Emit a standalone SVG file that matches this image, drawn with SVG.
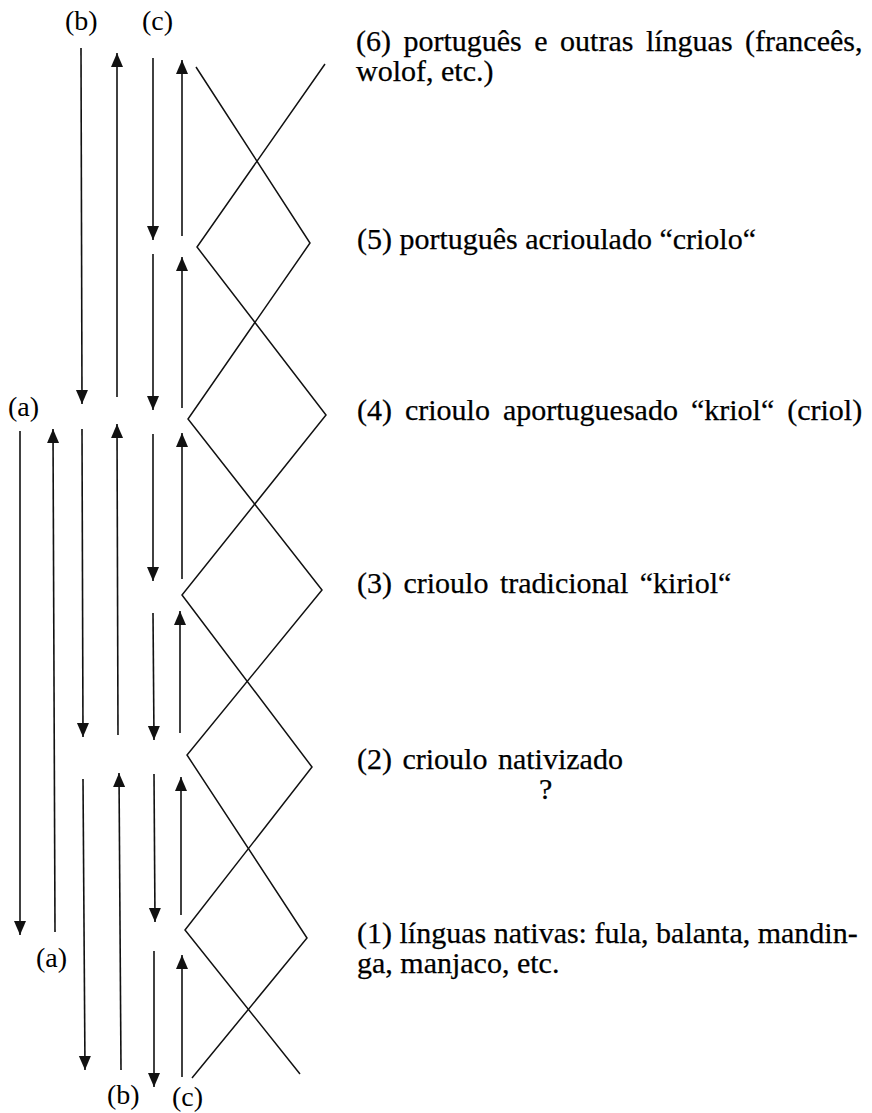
<svg xmlns="http://www.w3.org/2000/svg" width="872" height="1113" viewBox="0 0 872 1113">
<style>
  .t { font-family: "Liberation Serif", "Times New Roman", serif; font-size: 28px; fill: #000; }
  .b { font-family: "Liberation Serif", "Times New Roman", serif; font-size: 30px; fill: #000; stroke: #000; stroke-width: 0.25; }
  .ar { stroke: #111; stroke-width: 1.6; fill: none; marker-end: url(#ah); }
  .zz { stroke: #111; stroke-width: 1.5; fill: none; stroke-linejoin: miter; }
</style>
<defs>
  <marker id="ah" markerUnits="userSpaceOnUse" markerWidth="15" markerHeight="13" refX="14" refY="6" orient="auto">
    <path d="M0,0 L14,6 L0,12 z" fill="#111"/>
  </marker>
</defs>
<rect width="872" height="1113" fill="#fff"/>

<g id="connectors">
  <!-- column a -->
  <line class="ar" x1="20" y1="431" x2="20" y2="935"/>
  <line class="ar" x1="55" y1="932" x2="53" y2="429"/>
  <!-- column b -->
  <line class="ar" x1="81" y1="48" x2="82" y2="404"/>
  <line class="ar" x1="117" y1="397" x2="117" y2="53"/>
  <line class="ar" x1="82" y1="429" x2="83" y2="737"/>
  <line class="ar" x1="118" y1="735" x2="117" y2="424"/>
  <line class="ar" x1="83" y1="779" x2="85" y2="1070"/>
  <line class="ar" x1="121" y1="1070" x2="119" y2="773"/>
  <!-- column c -->
  <line class="ar" x1="153" y1="58" x2="153" y2="240"/>
  <line class="ar" x1="182" y1="236" x2="182" y2="60"/>
  <line class="ar" x1="153" y1="254" x2="153" y2="410"/>
  <line class="ar" x1="182" y1="408" x2="182" y2="257"/>
  <line class="ar" x1="153" y1="434" x2="153" y2="581"/>
  <line class="ar" x1="182" y1="579" x2="182" y2="433"/>
  <line class="ar" x1="153" y1="613" x2="154" y2="740"/>
  <line class="ar" x1="180" y1="733" x2="180" y2="611"/>
  <line class="ar" x1="154" y1="774" x2="155" y2="922"/>
  <line class="ar" x1="181" y1="915" x2="181" y2="777"/>
  <line class="ar" x1="154" y1="951" x2="154" y2="1087"/>
  <line class="ar" x1="182" y1="1077" x2="182" y2="955"/>
  <!-- zigzag chain -->
  <polyline class="zz" points="196,67 310,243 188,419 322,590 187,755 307,938 192,1078"/>
  <polyline class="zz" points="325,64 197,247 326,415 182,595 312,767 185,930 300,1074"/>
</g>

<g id="label-b-top"><text class="t" x="65" y="30">(b)</text></g>
<g id="label-c-top"><text class="t" x="142" y="30">(c)</text></g>
<g id="label-a-mid"><text class="t" x="8" y="416">(a)</text></g>
<g id="label-a-low"><text class="t" x="36" y="967">(a)</text></g>
<g id="label-b-bottom"><text class="t" x="107" y="1104">(b)</text></g>
<g id="label-c-bottom"><text class="t" x="172" y="1106">(c)</text></g>

<g id="level-6">
  <text class="b" x="356" y="51" word-spacing="5">(6) português e outras línguas (franceês,</text>
  <text class="b" x="356" y="81">wolof, etc.)</text>
</g>
<g id="level-5"><text class="b" x="357" y="249">(5) português acrioulado “criolo“</text></g>
<g id="level-4"><text class="b" x="357" y="420" word-spacing="5.5">(4) crioulo aportuguesado “kriol“ (criol)</text></g>
<g id="level-3"><text class="b" x="357" y="593" word-spacing="4">(3) crioulo tradicional “kiriol“</text></g>
<g id="level-2">
  <text class="b" x="357" y="769" word-spacing="3">(2) crioulo nativizado</text>
  <text class="b" x="539" y="799">?</text>
</g>
<g id="level-1">
  <text class="b" x="357" y="943">(1) línguas nativas: fula, balanta, mandin-</text>
  <text class="b" x="357" y="973">ga, manjaco, etc.</text>
</g>
</svg>
